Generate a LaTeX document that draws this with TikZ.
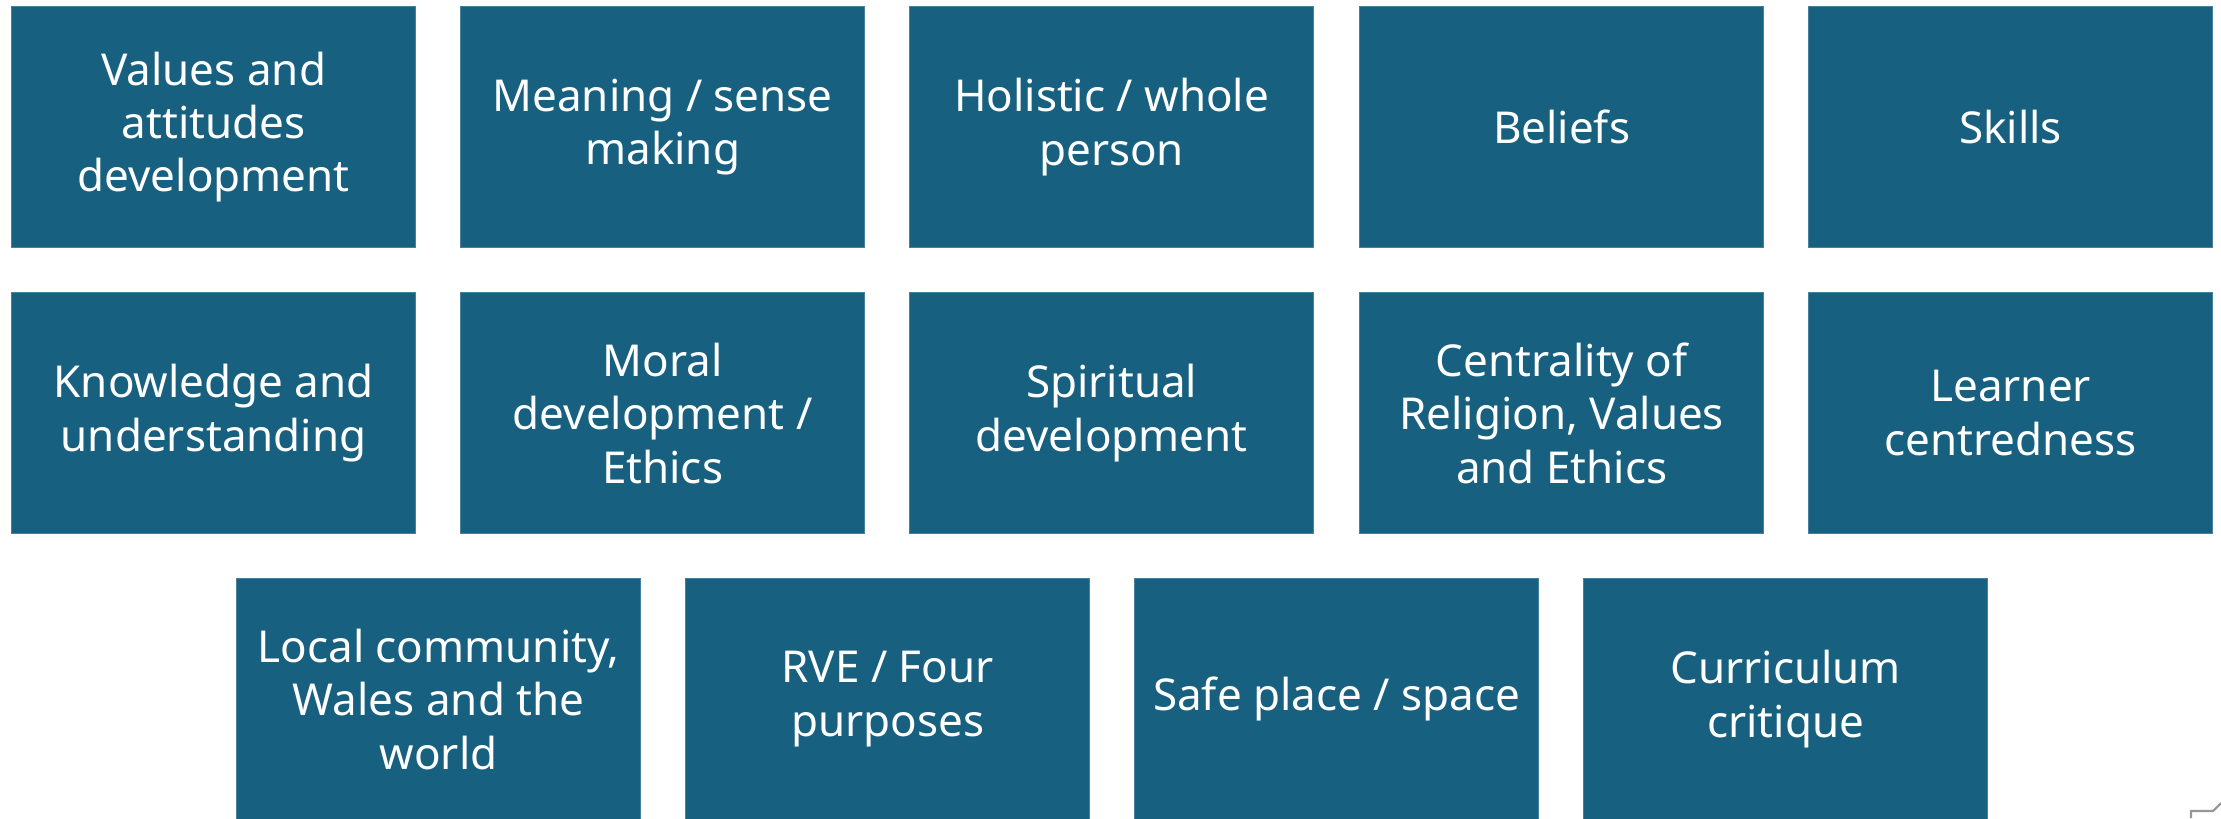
\documentclass[tikz,border=0pt]{standalone}
\usepackage{fontspec}
\setmainfont{Noto Sans}
\definecolor{tileblue}{RGB}{23,96,128}
\definecolor{tileedge}{RGB}{70,130,160}
\definecolor{markgrey}{RGB}{150,150,150}
\begin{document}
\begin{tikzpicture}[x=0.01cm,y=-0.01cm,
  tile/.style={rectangle, fill=tileblue, draw=tileedge, line width=0.3pt,
    anchor=north west, minimum width=4.04cm, minimum height=2.41cm,
    inner sep=0pt, align=center, text=white,
    font=\fontsize{12.5}{15.2}\selectfont},
  handle/.style={draw=markgrey, line width=0.6pt}]
\useasboundingbox[fill=white] (0,0) rectangle (2221,818);
% first row
\node[tile] (va) at (11,6)   {Values and\\attitudes\\development};
\node[tile] (ms) at (460,6)  {Meaning / sense\\making};
\node[tile] (hw) at (909,6)  {Holistic / whole\\person};
\node[tile] (be) at (1359,6) {Beliefs};
\node[tile] (sk) at (1808,6) {Skills};
% second row
\node[tile] (ku) at (11,292)   {Knowledge and\\understanding};
\node[tile] (md) at (460,292)  {Moral\\development /\\Ethics};
\node[tile] (sd) at (909,292)  {Spiritual\\development};
\node[tile] (cr) at (1359,292) {Centrality of\\Religion, Values\\and Ethics};
\node[tile] (lc) at (1808,292) {Learner\\centredness};
% third row
\node[tile] (lw) at (236,578)  {Local community,\\Wales and the\\world};
\node[tile] (rv) at (685,578)  {RVE / Four\\purposes};
\node[tile] (sp) at (1134,578) {Safe place / space};
\node[tile] (cc) at (1583,578) {Curriculum\\critique};
% small corner handle
\coordinate (h0) at (2191,818);
\coordinate (h1) at (2191,811);
\coordinate (h2) at (2213,811);
\coordinate (h3) at (2221,803);
\draw[handle] (h0) -- (h1) -- (h2) -- (h3);
\end{tikzpicture}
\end{document}
